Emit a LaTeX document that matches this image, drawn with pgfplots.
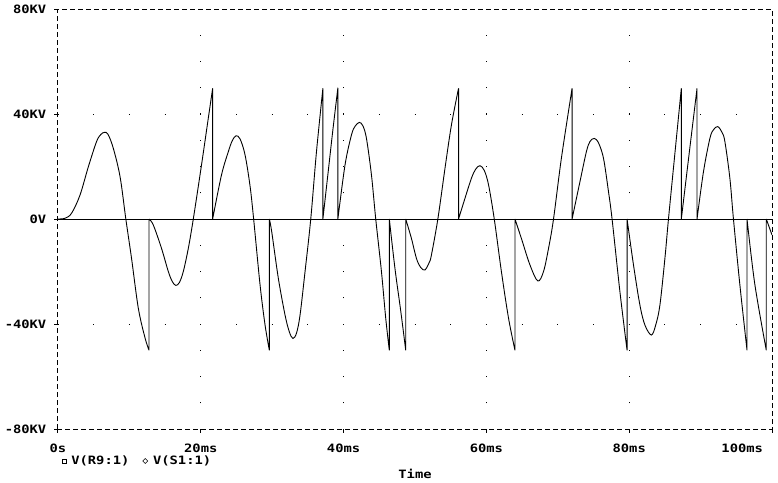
\documentclass[border=0pt]{standalone}
\usepackage{pgfplots}
\pgfplotsset{compat=1.18}
\usepackage{pgfplotstable}
\usepackage{fontspec}
\setmainfont{DejaVu Sans Mono}[FakeStretch=1.2]
\newcommand{\psfont}{\bfseries\fontsize{11.5}{12}\selectfont}

% waveform V(S1:1), time in ms, voltage in kV
% nan rows split the trace into smooth pieces; the switching jumps are their own pieces
\pgfplotstableread{
t v
0 0
1.0 0.3
1.9 2.2
3.08 9.1
4.25 19.9
5.4 29.5
6.0 32.2
6.5 33.0
7.0 32.3
7.75 26.9
8.7 16
9.5 0
10.3 -15
11.25 -34
12.2 -45.4
12.75 -50
nan nan
12.75 -50
12.75 0
nan nan
12.75 0
13.35 -2.3
14.5 -11.2
15.45 -20
16.0 -23.8
16.5 -25.3
17.0 -24.2
17.55 -20
18.25 -11.2
18.95 0
20.1 20.6
21.05 38.4
21.66 49.8
nan nan
21.66 49.8
21.66 0
nan nan
21.66 0
22.9 16.8
23.85 25.6
24.4 29.8
24.93 31.7
25.5 30.5
26.2 24.4
26.9 12.5
27.4 0
28.3 -25.1
29.0 -40.4
29.6 -50
nan nan
29.6 -50
29.6 0
nan nan
29.6 0
29.93 -4.8
30.86 -22.6
31.8 -36.6
32.4 -43
32.9 -45.5
33.4 -43.5
33.9 -36.6
34.6 -20
35.4 0
36.2 25.6
37.1 49.8
nan nan
37.1 49.8
37.1 0
nan nan
37.1 0
37.8 17
38.5 34
39.2 50
nan nan
39.2 50
39.2 0
nan nan
39.2 0
40.2 20.6
41.1 32
41.6 35.3
42.2 36.8
42.7 35.5
43.2 30.7
43.9 16.8
44.5 0
45.3 -20
45.9 -37.8
46.4 -50
nan nan
46.4 -50
46.4 0
nan nan
46.4 0
47.2 -19
48.0 -35
48.7 -50
nan nan
48.7 -50
48.7 0
nan nan
48.7 0
49.5 -7.4
50.2 -15
50.8 -18.5
51.4 -19.4
52.0 -16.5
52.3 -13.7
53.2 0
54.2 19.3
55.1 35.8
56.1 49.8
nan nan
56.1 49.8
56.1 0
nan nan
56.1 0
57.0 7.9
57.9 15.5
58.5 19
59.1 20.3
59.7 18.5
60.3 13
61.1 0
62.1 -20
63.1 -37.8
64.0 -50
nan nan
64.0 -50
64.0 0
nan nan
64.0 0
64.9 -7.4
66.1 -17.5
67.2 -23.6
68.0 -20
68.7 -11.2
69.4 0
70.5 23.1
72.0 49.8
nan nan
72.0 49.8
72.0 0
nan nan
72.0 0
73.1 14.2
74.0 25.6
74.5 29.5
75.1 30.7
75.7 29
76.4 23.1
77.1 10.4
77.6 0
78.7 -27.7
79.7 -50
nan nan
79.7 -50
79.7 0
nan nan
79.7 0
80.6 -17.5
81.5 -32.8
82.2 -40.4
83.1 -44.2
83.7 -40.5
84.3 -32.8
85.0 -15
85.5 0
86.4 25
87.3 49.8
nan nan
87.3 49.8
87.3 0
nan nan
87.3 0
88.4 25
89.5 49.8
nan nan
89.5 49.8
89.5 0
nan nan
89.5 0
90.4 18
91.3 30.7
91.8 34
92.4 35.2
93.0 33
93.4 29.5
94.1 15.5
94.6 0
95.5 -25.1
96.5 -50
nan nan
96.5 -50
96.5 0
nan nan
96.5 0
97.6 -25
99.2 -50
nan nan
99.2 -50
99.2 0
nan nan
99.2 0
100 -6.1
}\svolt

\begin{document}
\begin{tikzpicture}
\begin{axis}[
  at={(0,0)}, anchor=south west,
  scale only axis, width=714pt, height=420pt,
  xmin=0, xmax=100, ymin=-80, ymax=80,
  xtick={0,20,40,60,80,100},
  xticklabels={0s,20ms,40ms,60ms,80ms,{\hbox to 0pt{\hss 100ms\hskip 9pt}}},
  ytick={-80,-40,0,40,80},
  yticklabels={-80KV,-40KV,0V,40KV,80KV},
  xtick pos=bottom, ytick pos=left,
  tick align=outside, major tick length=3.5pt,
  tick style={solid, black, line width=1pt},
  axis line style={dash pattern=on 5pt off 3pt, line width=1pt},
  every tick label/.append style={font=\psfont},
  xticklabel style={anchor=base, yshift=-20pt},
  yticklabel style={anchor=east, inner sep=0pt, xshift=-8pt},
  extra x ticks={20,40,60,80},
  extra x tick labels={},
  extra x tick style={grid=major, major tick length=0pt},
  extra y ticks={-40,40},
  extra y tick labels={},
  extra y tick style={grid=major, major tick length=0pt},
  x grid style={black, line width=1pt, dash pattern=on 1pt off 25.25pt, dash phase=0.5pt},
  y grid style={black, line width=1pt, dash pattern=on 1pt off 34.7pt, dash phase=0.5pt},
  xlabel={Time},
  xlabel style={font=\psfont, at={(axis description cs:0.5,0)}, anchor=center, yshift=-45pt},
  unbounded coords=jump,
  legend columns=2,
  legend style={font=\psfont, draw=none, fill=none,
    at={(axis description cs:0,0)}, anchor=west, xshift=4pt, yshift=-32pt,
    inner sep=0pt,
    /tikz/every even column/.append style={column sep=12pt},
    nodes={inner sep=1pt}},
]
\addplot[black, line width=0.9pt,
  legend image code/.code={\draw[black, line width=0.6pt] (0pt,-2pt) rectangle (4pt,2pt);}]
  coordinates {(0,0) (100,0)};
\addlegendentry{\hspace{3.5pt}V(R9:1)}
\addplot[black, line width=0.9pt, smooth, tension=0.55,
  legend image code/.code={\draw[black, line width=0.6pt] (0pt,0pt) -- (2.5pt,2.5pt) -- (5pt,0pt) -- (2.5pt,-2.5pt) -- cycle;}]
  table[x=t, y=v] {\svolt};
\addlegendentry{\hspace{4pt}V(S1:1)}
\end{axis}
\path (-58pt,-53pt) rectangle (720pt,429pt);
\end{tikzpicture}
\end{document}
